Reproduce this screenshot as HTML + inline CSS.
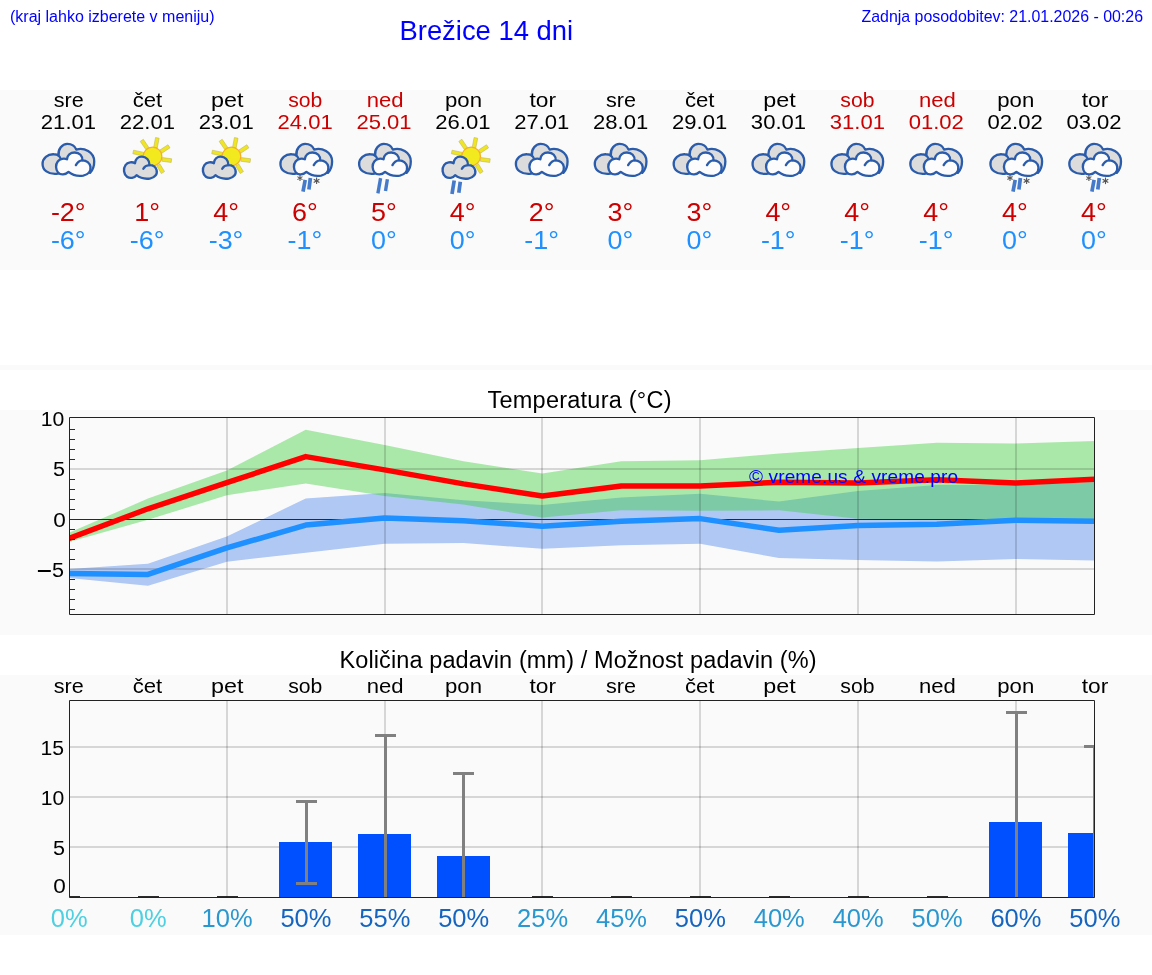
<!DOCTYPE html>
<html lang="sl"><head><meta charset="utf-8"><title>Brežice 14 dni</title>
<style>html,body{margin:0;padding:0;background:#fff}body{width:1152px;height:975px;overflow:hidden}svg{display:block}text{font-family:"Liberation Sans",sans-serif}</style></head><body>
<div id="wrap" style="will-change:transform;width:1152px;height:975px">
<svg width="1152" height="975" viewBox="0 0 1152 975">
<rect width="1152" height="975" fill="#fff"/>
<rect x="0" y="90" width="1152" height="180" fill="#fafafa"/>
<rect x="0" y="365" width="1152" height="5" fill="#fafafa"/>
<rect x="0" y="410" width="1152" height="225" fill="#fafafa"/>
<rect x="0" y="675" width="1152" height="260" fill="#fafafa"/>
<defs>
<g id="cloudA"><g transform="translate(-34.5,135) scale(0.0615)" stroke-linejoin="round" stroke-linecap="round"><path d="M370,628 C200,650 118,560 118,470 C118,380 200,308 300,313 C340,314 365,322 378,335 C365,225 440,143 520,143 C590,143 645,180 667,237 C790,195 958,280 958,430 C958,520 925,580 890,615 L600,560 Z" fill="#dcdcdc" stroke="none"/><path d="M370,628 C200,650 118,560 118,470 C118,380 200,308 300,313 C340,314 365,322 378,335 C365,225 440,143 520,143 C590,143 645,180 667,237 C790,195 958,280 958,430 C958,520 925,580 890,615" fill="none" stroke="#2a5cab" stroke-width="38"/><path d="M378,335 Q398,350 410,380" fill="none" stroke="#2a5cab" stroke-width="34"/><path d="M515,395 C470,375 400,385 365,430 C325,480 330,560 370,610 C410,655 490,650 540,600 C600,650 700,670 780,660 C860,645 905,590 897,520 C890,455 830,410 765,412 C770,340 720,285 640,285 C570,285 520,330 515,395 Z" fill="#fcfcfc" stroke="#2a5cab" stroke-width="38"/><path d="M765,412 C720,415 680,450 660,490" fill="none" stroke="#2a5cab" stroke-width="38"/></g></g>
<g id="sunB"><g transform="translate(-33.35,130) scale(0.0615)"><g fill="#f0e522" stroke="#b9b35a" stroke-width="9" stroke-linejoin="round"><polygon points="405,185 495,317 545,283 455,151"/><polygon points="654,122 623,284 681,296 712,134"/><polygon points="855,240 723,327 757,377 889,290"/><polygon points="916,468 764,448 756,508 908,528"/><polygon points="800,676 726,554 674,586 748,708"/><polygon points="284,386 449,422 461,364 296,328"/></g><circle cx="605" cy="430" r="152" fill="#f2e91e" stroke="#f9ad2a" stroke-width="20"/><g stroke-linejoin="round" stroke-linecap="round"><path d="M320,540 C280,515 200,520 165,570 C125,625 135,720 190,760 C240,795 310,780 345,735 C400,780 480,800 560,790 C640,775 690,720 670,650 C655,600 610,570 555,572 C560,490 500,432 430,432 C370,432 325,475 320,540 Z" fill="#dcdcdc" stroke="#2a5cab" stroke-width="38"/><path d="M555,572 C510,575 470,600 455,630" fill="none" stroke="#2a5cab" stroke-width="38"/></g></g></g>
</defs>
<text x="10" y="22" font-size="16" fill="#0000ff">(kraj lahko izberete v meniju)</text>
<text x="399.5" y="39.6" font-size="27.4" fill="#0000ff">Brežice 14 dni</text>
<text x="1143" y="22" font-size="15.93" fill="#0000ff" text-anchor="end">Zadnja posodobitev: 21.01.2026 - 00:26</text>
<text transform="translate(68.75,106.80) scale(1.090,1)" font-size="19.80" fill="#000" text-anchor="middle">sre</text>
<text transform="translate(68.45,128.90) scale(1.115,1)" font-size="19.80" fill="#000" text-anchor="middle">21.01</text>
<text transform="translate(68.25,221.00) scale(1.045,1)" font-size="25.80" fill="#cc0000" text-anchor="middle">-2°</text>
<text transform="translate(68.25,248.60) scale(1.045,1)" font-size="25.80" fill="#1e90ff" text-anchor="middle">-6°</text>
<text transform="translate(147.44,106.80) scale(1.120,1)" font-size="19.80" fill="#000" text-anchor="middle">čet</text>
<text transform="translate(147.34,128.90) scale(1.115,1)" font-size="19.80" fill="#000" text-anchor="middle">22.01</text>
<text transform="translate(147.14,221.00) scale(1.045,1)" font-size="25.80" fill="#cc0000" text-anchor="middle">1°</text>
<text transform="translate(147.14,248.60) scale(1.045,1)" font-size="25.80" fill="#1e90ff" text-anchor="middle">-6°</text>
<text transform="translate(227.33,106.80) scale(1.180,1)" font-size="19.80" fill="#000" text-anchor="middle">pet</text>
<text transform="translate(226.23,128.90) scale(1.115,1)" font-size="19.80" fill="#000" text-anchor="middle">23.01</text>
<text transform="translate(226.03,221.00) scale(1.045,1)" font-size="25.80" fill="#cc0000" text-anchor="middle">4°</text>
<text transform="translate(226.03,248.60) scale(1.045,1)" font-size="25.80" fill="#1e90ff" text-anchor="middle">-3°</text>
<text transform="translate(305.22,106.80) scale(1.070,1)" font-size="19.80" fill="#cc0000" text-anchor="middle">sob</text>
<text transform="translate(305.12,128.90) scale(1.115,1)" font-size="19.80" fill="#cc0000" text-anchor="middle">24.01</text>
<text transform="translate(304.92,221.00) scale(1.045,1)" font-size="25.80" fill="#cc0000" text-anchor="middle">6°</text>
<text transform="translate(304.92,248.60) scale(1.045,1)" font-size="25.80" fill="#1e90ff" text-anchor="middle">-1°</text>
<text transform="translate(385.11,106.80) scale(1.115,1)" font-size="19.80" fill="#cc0000" text-anchor="middle">ned</text>
<text transform="translate(384.01,128.90) scale(1.115,1)" font-size="19.80" fill="#cc0000" text-anchor="middle">25.01</text>
<text transform="translate(383.81,221.00) scale(1.045,1)" font-size="25.80" fill="#cc0000" text-anchor="middle">5°</text>
<text transform="translate(383.81,248.60) scale(1.045,1)" font-size="25.80" fill="#1e90ff" text-anchor="middle">0°</text>
<text transform="translate(463.50,106.80) scale(1.120,1)" font-size="19.80" fill="#000" text-anchor="middle">pon</text>
<text transform="translate(462.90,128.90) scale(1.115,1)" font-size="19.80" fill="#000" text-anchor="middle">26.01</text>
<text transform="translate(462.70,221.00) scale(1.045,1)" font-size="25.80" fill="#cc0000" text-anchor="middle">4°</text>
<text transform="translate(462.70,248.60) scale(1.045,1)" font-size="25.80" fill="#1e90ff" text-anchor="middle">0°</text>
<text transform="translate(542.79,106.80) scale(1.150,1)" font-size="19.80" fill="#000" text-anchor="middle">tor</text>
<text transform="translate(541.79,128.90) scale(1.115,1)" font-size="19.80" fill="#000" text-anchor="middle">27.01</text>
<text transform="translate(541.59,221.00) scale(1.045,1)" font-size="25.80" fill="#cc0000" text-anchor="middle">2°</text>
<text transform="translate(541.59,248.60) scale(1.045,1)" font-size="25.80" fill="#1e90ff" text-anchor="middle">-1°</text>
<text transform="translate(620.98,106.80) scale(1.090,1)" font-size="19.80" fill="#000" text-anchor="middle">sre</text>
<text transform="translate(620.68,128.90) scale(1.115,1)" font-size="19.80" fill="#000" text-anchor="middle">28.01</text>
<text transform="translate(620.48,221.00) scale(1.045,1)" font-size="25.80" fill="#cc0000" text-anchor="middle">3°</text>
<text transform="translate(620.48,248.60) scale(1.045,1)" font-size="25.80" fill="#1e90ff" text-anchor="middle">0°</text>
<text transform="translate(699.67,106.80) scale(1.120,1)" font-size="19.80" fill="#000" text-anchor="middle">čet</text>
<text transform="translate(699.57,128.90) scale(1.115,1)" font-size="19.80" fill="#000" text-anchor="middle">29.01</text>
<text transform="translate(699.37,221.00) scale(1.045,1)" font-size="25.80" fill="#cc0000" text-anchor="middle">3°</text>
<text transform="translate(699.37,248.60) scale(1.045,1)" font-size="25.80" fill="#1e90ff" text-anchor="middle">0°</text>
<text transform="translate(779.56,106.80) scale(1.180,1)" font-size="19.80" fill="#000" text-anchor="middle">pet</text>
<text transform="translate(778.46,128.90) scale(1.115,1)" font-size="19.80" fill="#000" text-anchor="middle">30.01</text>
<text transform="translate(778.26,221.00) scale(1.045,1)" font-size="25.80" fill="#cc0000" text-anchor="middle">4°</text>
<text transform="translate(778.26,248.60) scale(1.045,1)" font-size="25.80" fill="#1e90ff" text-anchor="middle">-1°</text>
<text transform="translate(857.45,106.80) scale(1.070,1)" font-size="19.80" fill="#cc0000" text-anchor="middle">sob</text>
<text transform="translate(857.35,128.90) scale(1.115,1)" font-size="19.80" fill="#cc0000" text-anchor="middle">31.01</text>
<text transform="translate(857.15,221.00) scale(1.045,1)" font-size="25.80" fill="#cc0000" text-anchor="middle">4°</text>
<text transform="translate(857.15,248.60) scale(1.045,1)" font-size="25.80" fill="#1e90ff" text-anchor="middle">-1°</text>
<text transform="translate(937.34,106.80) scale(1.115,1)" font-size="19.80" fill="#cc0000" text-anchor="middle">ned</text>
<text transform="translate(936.24,128.90) scale(1.115,1)" font-size="19.80" fill="#cc0000" text-anchor="middle">01.02</text>
<text transform="translate(936.04,221.00) scale(1.045,1)" font-size="25.80" fill="#cc0000" text-anchor="middle">4°</text>
<text transform="translate(936.04,248.60) scale(1.045,1)" font-size="25.80" fill="#1e90ff" text-anchor="middle">-1°</text>
<text transform="translate(1015.73,106.80) scale(1.120,1)" font-size="19.80" fill="#000" text-anchor="middle">pon</text>
<text transform="translate(1015.13,128.90) scale(1.115,1)" font-size="19.80" fill="#000" text-anchor="middle">02.02</text>
<text transform="translate(1014.93,221.00) scale(1.045,1)" font-size="25.80" fill="#cc0000" text-anchor="middle">4°</text>
<text transform="translate(1014.93,248.60) scale(1.045,1)" font-size="25.80" fill="#1e90ff" text-anchor="middle">0°</text>
<text transform="translate(1095.02,106.80) scale(1.150,1)" font-size="19.80" fill="#000" text-anchor="middle">tor</text>
<text transform="translate(1094.02,128.90) scale(1.115,1)" font-size="19.80" fill="#000" text-anchor="middle">03.02</text>
<text transform="translate(1093.82,221.00) scale(1.045,1)" font-size="25.80" fill="#cc0000" text-anchor="middle">4°</text>
<text transform="translate(1093.82,248.60) scale(1.045,1)" font-size="25.80" fill="#1e90ff" text-anchor="middle">0°</text>
<use href="#cloudA" x="69.80" y="0"/>
<use href="#sunB" x="148.69" y="0"/>
<use href="#sunB" x="227.58" y="0"/>
<g stroke="#555" stroke-width="1.1"><line x1="300.0" y1="175.1" x2="300.0" y2="181.1"/><line x1="297.4" y1="176.6" x2="302.5" y2="179.6"/><line x1="302.5" y1="176.6" x2="297.4" y2="179.6"/></g>
<use href="#cloudA" x="307.67" y="0"/>
<line x1="305.2" y1="179.9" x2="303.0" y2="191.6" stroke="#4579ca" stroke-width="3.7"/><line x1="310.4" y1="178.1" x2="308.9" y2="189.4" stroke="#4579ca" stroke-width="3.7"/>
<g stroke="#555" stroke-width="1.1"><line x1="316.6" y1="177.5" x2="316.6" y2="184.1"/><line x1="313.7" y1="179.2" x2="319.4" y2="182.5"/><line x1="319.4" y1="179.2" x2="313.7" y2="182.5"/></g>
<use href="#cloudA" x="386.36" y="0"/>
<line x1="380.6" y1="178.1" x2="377.9" y2="193.4" stroke="#4579ca" stroke-width="3.4"/><line x1="387.4" y1="179.3" x2="385.5" y2="191.0" stroke="#4579ca" stroke-width="3.4"/>
<use href="#sunB" x="467.25" y="0"/>
<line x1="454.2" y1="180.5" x2="452.0" y2="194.0" stroke="#4579ca" stroke-width="3.7"/><line x1="460.3" y1="181.7" x2="458.8" y2="192.8" stroke="#4579ca" stroke-width="3.7"/>
<use href="#cloudA" x="543.14" y="0"/>
<use href="#cloudA" x="622.03" y="0"/>
<use href="#cloudA" x="700.92" y="0"/>
<use href="#cloudA" x="779.81" y="0"/>
<use href="#cloudA" x="858.70" y="0"/>
<use href="#cloudA" x="937.59" y="0"/>
<g stroke="#555" stroke-width="1.1"><line x1="1010.0" y1="175.1" x2="1010.0" y2="181.1"/><line x1="1007.4" y1="176.6" x2="1012.6" y2="179.6"/><line x1="1012.6" y1="176.6" x2="1007.4" y2="179.6"/></g>
<use href="#cloudA" x="1017.68" y="0"/>
<line x1="1015.2" y1="179.9" x2="1013.0" y2="191.6" stroke="#4579ca" stroke-width="3.7"/><line x1="1020.4" y1="178.1" x2="1018.9" y2="189.4" stroke="#4579ca" stroke-width="3.7"/>
<g stroke="#555" stroke-width="1.1"><line x1="1026.6" y1="177.5" x2="1026.6" y2="184.1"/><line x1="1023.7" y1="179.2" x2="1029.4" y2="182.5"/><line x1="1029.4" y1="179.2" x2="1023.7" y2="182.5"/></g>
<g stroke="#555" stroke-width="1.1"><line x1="1088.9" y1="175.1" x2="1088.9" y2="181.1"/><line x1="1086.3" y1="176.6" x2="1091.4" y2="179.6"/><line x1="1091.4" y1="176.6" x2="1086.3" y2="179.6"/></g>
<use href="#cloudA" x="1096.57" y="0"/>
<line x1="1094.1" y1="179.9" x2="1091.9" y2="191.6" stroke="#4579ca" stroke-width="3.7"/><line x1="1099.3" y1="178.1" x2="1097.8" y2="189.4" stroke="#4579ca" stroke-width="3.7"/>
<g stroke="#555" stroke-width="1.1"><line x1="1105.5" y1="177.5" x2="1105.5" y2="184.1"/><line x1="1102.6" y1="179.2" x2="1108.3" y2="182.5"/><line x1="1108.3" y1="179.2" x2="1102.6" y2="182.5"/></g>
<text x="579.5" y="407.5" font-size="23.5" text-anchor="middle" textLength="184" lengthAdjust="spacing">Temperatura (°C)</text>
<clipPath id="cpT"><rect x="69.5" y="417.5" width="1025.0" height="197.0"/></clipPath>
<g clip-path="url(#cpT)">
<polygon points="69.05,569.10 147.94,563.80 226.83,536.50 305.72,498.50 384.61,492.90 463.50,500.20 542.39,505.10 621.28,497.60 700.17,493.80 779.06,501.60 857.95,491.10 936.84,485.10 1015.73,485.10 1094.62,482.10 1094.62,560.40 1015.73,558.90 936.84,561.50 857.95,560.00 779.06,558.00 700.17,543.80 621.28,545.30 542.39,548.80 463.50,542.90 384.61,543.80 305.72,552.70 226.83,561.70 147.94,585.70 69.05,578.10" fill="#6495ed" fill-opacity="0.50"/>
<polygon points="69.05,532.80 147.94,498.60 226.83,470.40 305.72,429.80 384.61,445.10 463.50,461.30 542.39,473.60 621.28,461.30 700.17,460.30 779.06,453.50 857.95,448.10 936.84,442.80 1015.73,443.40 1094.62,441.00 1094.62,519.40 1015.73,518.70 936.84,519.40 857.95,518.70 779.06,510.30 700.17,510.80 621.28,510.30 542.39,517.60 463.50,504.60 384.61,496.10 305.72,483.40 226.83,495.20 147.94,519.80 69.05,541.90" fill="#32cd32" fill-opacity="0.40"/>
<rect x="226" y="417.5" width="2" height="197.0" fill="#000" fill-opacity="0.140"/>
<rect x="384" y="417.5" width="2" height="197.0" fill="#000" fill-opacity="0.140"/>
<rect x="541" y="417.5" width="2" height="197.0" fill="#000" fill-opacity="0.140"/>
<rect x="699" y="417.5" width="2" height="197.0" fill="#000" fill-opacity="0.140"/>
<rect x="857" y="417.5" width="2" height="197.0" fill="#000" fill-opacity="0.140"/>
<rect x="1015" y="417.5" width="2" height="197.0" fill="#000" fill-opacity="0.140"/>
<rect x="69.5" y="468" width="1025.0" height="2" fill="#000" fill-opacity="0.140"/>
<rect x="69.5" y="568" width="1025.0" height="2" fill="#000" fill-opacity="0.140"/>
<rect x="69.5" y="519" width="1025.0" height="1" fill="#2a2a2a"/>
<polyline points="69.05,573.50 147.94,574.40 226.83,547.90 305.72,525.10 384.61,518.10 463.50,520.70 542.39,526.30 621.28,521.20 700.17,518.60 779.06,530.20 857.95,525.50 936.84,524.20 1015.73,520.30 1094.62,521.30" fill="none" stroke="#1e90ff" stroke-width="5.5" stroke-linejoin="round"/>
<polyline points="69.05,538.50 147.94,508.80 226.83,482.70 305.72,456.60 384.61,469.90 463.50,483.90 542.39,496.00 621.28,486.00 700.17,486.00 779.06,482.20 857.95,482.90 936.84,479.70 1015.73,482.90 1094.62,479.20" fill="none" stroke="#ff0000" stroke-width="5.5" stroke-linejoin="round"/>
</g>
<text x="749" y="483" font-size="19" fill="#0000ff" textLength="209" lengthAdjust="spacing">© vreme.us &amp; vreme.pro</text>
<rect x="70" y="609" width="5" height="1" fill="#2a2a2a"/>
<rect x="70" y="599" width="5" height="1" fill="#2a2a2a"/>
<rect x="70" y="589" width="5" height="1" fill="#2a2a2a"/>
<rect x="70" y="579" width="5" height="1" fill="#2a2a2a"/>
<rect x="70" y="559" width="5" height="1" fill="#2a2a2a"/>
<rect x="70" y="549" width="5" height="1" fill="#2a2a2a"/>
<rect x="70" y="539" width="5" height="1" fill="#2a2a2a"/>
<rect x="70" y="529" width="5" height="1" fill="#2a2a2a"/>
<rect x="70" y="509" width="5" height="1" fill="#2a2a2a"/>
<rect x="70" y="499" width="5" height="1" fill="#2a2a2a"/>
<rect x="70" y="489" width="5" height="1" fill="#2a2a2a"/>
<rect x="70" y="479" width="5" height="1" fill="#2a2a2a"/>
<rect x="70" y="459" width="5" height="1" fill="#2a2a2a"/>
<rect x="70" y="449" width="5" height="1" fill="#2a2a2a"/>
<rect x="70" y="439" width="5" height="1" fill="#2a2a2a"/>
<rect x="70" y="429" width="5" height="1" fill="#2a2a2a"/>
<path d="M69.5,417.5H1094.5V614.5H69.5Z" fill="none" stroke="#222" stroke-width="1"/>
<text transform="translate(64.20,425.85) scale(1.070,1)" font-size="19.80" fill="#000" text-anchor="end">10</text>
<text transform="translate(65.10,475.90) scale(1.090,1)" font-size="19.80" fill="#000" text-anchor="end">5</text>
<text transform="translate(65.80,527.00) scale(1.140,1)" font-size="19.80" fill="#000" text-anchor="end">0</text>
<text transform="translate(64.00,577.00) scale(1.090,1)" font-size="19.80" fill="#000" text-anchor="end">5</text>
<rect x="37.9" y="570" width="12.9" height="2" fill="#000"/>
<text x="578" y="667.6" font-size="23.5" text-anchor="middle" textLength="477" lengthAdjust="spacing">Količina padavin (mm) / Možnost padavin (%)</text>
<text transform="translate(68.75,692.80) scale(1.090,1)" font-size="19.80" fill="#000" text-anchor="middle">sre</text>
<text transform="translate(147.44,692.80) scale(1.120,1)" font-size="19.80" fill="#000" text-anchor="middle">čet</text>
<text transform="translate(227.33,692.80) scale(1.180,1)" font-size="19.80" fill="#000" text-anchor="middle">pet</text>
<text transform="translate(305.22,692.80) scale(1.070,1)" font-size="19.80" fill="#000" text-anchor="middle">sob</text>
<text transform="translate(385.11,692.80) scale(1.115,1)" font-size="19.80" fill="#000" text-anchor="middle">ned</text>
<text transform="translate(463.50,692.80) scale(1.120,1)" font-size="19.80" fill="#000" text-anchor="middle">pon</text>
<text transform="translate(542.79,692.80) scale(1.150,1)" font-size="19.80" fill="#000" text-anchor="middle">tor</text>
<text transform="translate(620.98,692.80) scale(1.090,1)" font-size="19.80" fill="#000" text-anchor="middle">sre</text>
<text transform="translate(699.67,692.80) scale(1.120,1)" font-size="19.80" fill="#000" text-anchor="middle">čet</text>
<text transform="translate(779.56,692.80) scale(1.180,1)" font-size="19.80" fill="#000" text-anchor="middle">pet</text>
<text transform="translate(857.45,692.80) scale(1.070,1)" font-size="19.80" fill="#000" text-anchor="middle">sob</text>
<text transform="translate(937.34,692.80) scale(1.115,1)" font-size="19.80" fill="#000" text-anchor="middle">ned</text>
<text transform="translate(1015.73,692.80) scale(1.120,1)" font-size="19.80" fill="#000" text-anchor="middle">pon</text>
<text transform="translate(1095.02,692.80) scale(1.150,1)" font-size="19.80" fill="#000" text-anchor="middle">tor</text>
<clipPath id="cpP"><rect x="69.5" y="700.5" width="1025.0" height="197.0"/></clipPath>
<g clip-path="url(#cpP)">
<rect x="226" y="700.5" width="2" height="197.0" fill="#000" fill-opacity="0.140"/>
<rect x="384" y="700.5" width="2" height="197.0" fill="#000" fill-opacity="0.140"/>
<rect x="541" y="700.5" width="2" height="197.0" fill="#000" fill-opacity="0.140"/>
<rect x="699" y="700.5" width="2" height="197.0" fill="#000" fill-opacity="0.140"/>
<rect x="857" y="700.5" width="2" height="197.0" fill="#000" fill-opacity="0.140"/>
<rect x="1015" y="700.5" width="2" height="197.0" fill="#000" fill-opacity="0.140"/>
<rect x="69.5" y="746" width="1025.0" height="2" fill="#000" fill-opacity="0.140"/>
<rect x="69.5" y="796" width="1025.0" height="2" fill="#000" fill-opacity="0.140"/>
<rect x="69.5" y="846" width="1025.0" height="2" fill="#000" fill-opacity="0.140"/>
<rect x="279" y="842" width="53" height="56" fill="#0050ff"/>
<rect x="358" y="834" width="53" height="64" fill="#0050ff"/>
<rect x="437" y="856" width="53" height="42" fill="#0050ff"/>
<rect x="989" y="822" width="53" height="76" fill="#0050ff"/>
<rect x="1068" y="833" width="53" height="65" fill="#0050ff"/>
<rect x="59.0" y="896.1" width="21" height="1.4" fill="#161616"/>
<rect x="138.0" y="896.1" width="21" height="1.4" fill="#161616"/>
<rect x="217.0" y="896.1" width="21" height="1.4" fill="#161616"/>
<rect x="305.0" y="801.5" width="3" height="82.0" fill="#808080"/>
<rect x="296.0" y="800.0" width="21" height="3" fill="#808080"/>
<rect x="296.0" y="882.0" width="21" height="3" fill="#808080"/>
<rect x="384.0" y="735.5" width="3" height="162.5" fill="#808080"/>
<rect x="375.0" y="734.0" width="21" height="3" fill="#808080"/>
<rect x="462.0" y="773.5" width="3" height="124.5" fill="#808080"/>
<rect x="453.0" y="772.0" width="21" height="3" fill="#808080"/>
<rect x="532.0" y="896.1" width="21" height="1.4" fill="#161616"/>
<rect x="611.0" y="896.1" width="21" height="1.4" fill="#161616"/>
<rect x="690.0" y="896.1" width="21" height="1.4" fill="#161616"/>
<rect x="769.0" y="896.1" width="21" height="1.4" fill="#161616"/>
<rect x="848.0" y="896.1" width="21" height="1.4" fill="#161616"/>
<rect x="927.0" y="896.1" width="21" height="1.4" fill="#161616"/>
<rect x="1015.0" y="712.5" width="3" height="185.5" fill="#808080"/>
<rect x="1006.0" y="711.0" width="21" height="3" fill="#808080"/>
<rect x="1093.0" y="746.5" width="3" height="151.5" fill="#808080"/>
<rect x="1084.0" y="745.0" width="21" height="3" fill="#808080"/>
</g>
<path d="M69.5,700.5H1094.5V897.5H69.5Z" fill="none" stroke="#222" stroke-width="1"/>
<text transform="translate(64.00,755.00) scale(1.070,1)" font-size="19.80" fill="#000" text-anchor="end">15</text>
<text transform="translate(64.20,805.00) scale(1.070,1)" font-size="19.80" fill="#000" text-anchor="end">10</text>
<text transform="translate(65.10,855.00) scale(1.090,1)" font-size="19.80" fill="#000" text-anchor="end">5</text>
<text transform="translate(65.80,893.00) scale(1.140,1)" font-size="19.80" fill="#000" text-anchor="end">0</text>
<text transform="translate(69.25,926.70) scale(1.000,1)" font-size="25.50" fill="#4dd0e1" text-anchor="middle">0%</text>
<text transform="translate(148.14,926.70) scale(1.000,1)" font-size="25.50" fill="#4dd0e1" text-anchor="middle">0%</text>
<text transform="translate(227.03,926.70) scale(1.000,1)" font-size="25.50" fill="#2a98d0" text-anchor="middle">10%</text>
<text transform="translate(305.92,926.70) scale(1.000,1)" font-size="25.50" fill="#1565c0" text-anchor="middle">50%</text>
<text transform="translate(384.81,926.70) scale(1.000,1)" font-size="25.50" fill="#1565c0" text-anchor="middle">55%</text>
<text transform="translate(463.70,926.70) scale(1.000,1)" font-size="25.50" fill="#1565c0" text-anchor="middle">50%</text>
<text transform="translate(542.59,926.70) scale(1.000,1)" font-size="25.50" fill="#2a98d0" text-anchor="middle">25%</text>
<text transform="translate(621.48,926.70) scale(1.000,1)" font-size="25.50" fill="#2a98d0" text-anchor="middle">45%</text>
<text transform="translate(700.37,926.70) scale(1.000,1)" font-size="25.50" fill="#1565c0" text-anchor="middle">50%</text>
<text transform="translate(779.26,926.70) scale(1.000,1)" font-size="25.50" fill="#2a98d0" text-anchor="middle">40%</text>
<text transform="translate(858.15,926.70) scale(1.000,1)" font-size="25.50" fill="#2a98d0" text-anchor="middle">40%</text>
<text transform="translate(937.04,926.70) scale(1.000,1)" font-size="25.50" fill="#2a98d0" text-anchor="middle">50%</text>
<text transform="translate(1015.93,926.70) scale(1.000,1)" font-size="25.50" fill="#1565c0" text-anchor="middle">60%</text>
<text transform="translate(1094.82,926.70) scale(1.000,1)" font-size="25.50" fill="#1565c0" text-anchor="middle">50%</text>
</svg></div></body></html>
